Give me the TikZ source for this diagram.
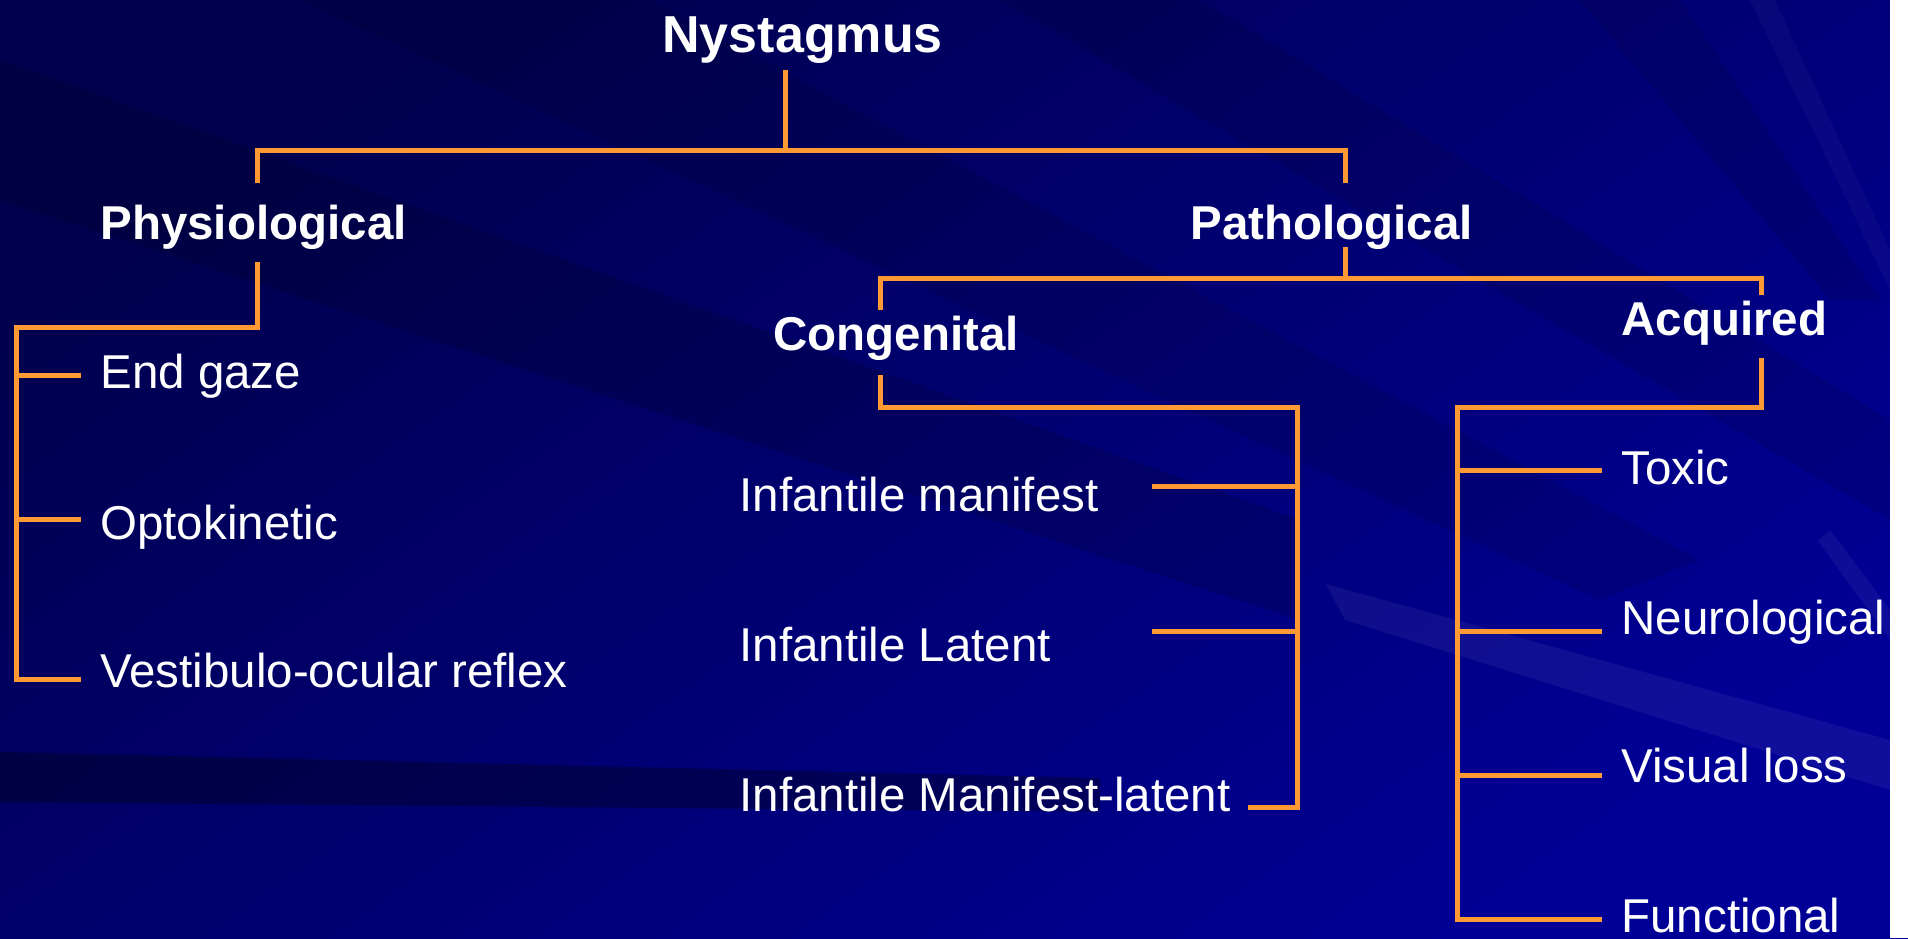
\documentclass[tikz,border=0pt]{standalone}
\usepackage{fontspec}
\setmainfont{Liberation Sans}
\definecolor{bgUL}{RGB}{0,0,78}
\definecolor{bgMid}{RGB}{0,0,125}
\definecolor{bgLR}{RGB}{0,0,150}
\definecolor{lineor}{RGB}{255,153,51}
\begin{document}
\begin{tikzpicture}[x=0.5pt,y=-0.5pt,
  conn/.style={draw=lineor, line width=2.5pt},
  lab/.style={text=white, inner sep=0pt, anchor=base west, font=\fontsize{23.75}{28}\selectfont},
  blab/.style={lab, font=\fontsize{23.75}{28}\selectfont\bfseries},
  tlab/.style={lab, font=\fontsize{26}{30}\selectfont\bfseries}]
\useasboundingbox (0,0) rectangle (1908,938);
% background
\shade[shading=axis, top color=bgUL, middle color=bgMid, bottom color=bgLR, shading angle=35] (0,0) rectangle (1908,938);
\fill[black, opacity=0.14] (0,60) -- (0,200) -- (1300,620) -- (1300,520) -- cycle;
\fill[black, opacity=0.10] (300,0) -- (650,0) -- (1700,560) -- (1600,600) -- cycle;
\fill[black, opacity=0.30] (0,752) -- (0,802) -- (1100,812) -- (1100,778) -- cycle;
\fill[black, opacity=0.10] (1580,0) -- (1680,0) -- (1880,300) -- (1830,300) -- cycle;
\fill[black, opacity=0.10] (1000,0) -- (1200,0) -- (1890,420) -- (1890,520) -- cycle;
\fill[white, opacity=0.06] (1326,584) -- (1345,620) -- (1890,790) -- (1890,740) -- cycle;
\fill[white, opacity=0.05] (1818,541) -- (1830,530) -- (1890,610) -- (1890,640) -- cycle;
\fill[white, opacity=0.03] (1750,0) -- (1775,0) -- (1890,250) -- (1890,290) -- cycle;
\fill[white] (1890,0) rectangle (1908,938);
% texts
\node[tlab] (nys) at (662,52) {Nystagmus};
\node[blab] (phys) at (100,239) {Physiological};
\node[blab] (path) at (1190,239) {Pathological};
\node[blab] (cong) at (773,350) {Congenital};
\node[blab] (acq) at (1621,335) {Acquired};
\node[lab] (end) at (100,388) {End gaze};
\node[lab] (opto) at (100,539) {Optokinetic};
\node[lab] (vest) at (100,687) {Vestibulo-ocular reflex};
\node[lab] (im) at (739,511) {Infantile manifest};
\node[lab] (il) at (739,661) {Infantile Latent};
\node[lab] (iml) at (739,811) {Infantile Manifest-latent};
\node[lab] (tox) at (1621,484) {Toxic};
\node[lab] (neu) at (1621,634) {Neurological};
\node[lab] (vis) at (1621,782) {Visual loss};
\node[lab] (fun) at (1621,932) {Functional};
% coordinates
\coordinate (n0) at (785,70);
\coordinate (n1) at (785,150.7);
\coordinate (p0) at (257,183);
\coordinate (p1) at (257,150.7);
\coordinate (q1) at (1345,150.7);
\coordinate (q0) at (1345,183);
\coordinate (ph0) at (257,262);
\coordinate (ph1) at (257,327);
\coordinate (ph2) at (16,327);
\coordinate (ph3) at (16,679);
\coordinate (tEnd) at (81,375);
\coordinate (tOpt) at (81,519);
\coordinate (tVes) at (81,679);
\coordinate (pa0) at (1345,247);
\coordinate (pa1) at (1345,278);
\coordinate (c0) at (880,310);
\coordinate (c1) at (880,278);
\coordinate (a1) at (1761,278);
\coordinate (a0) at (1761,295);
\coordinate (cg0) at (880,375);
\coordinate (cg1) at (880,407);
\coordinate (cg2) at (1297,407);
\coordinate (cg3) at (1297,807);
\coordinate (tIm) at (1152,486);
\coordinate (tIl) at (1152,631);
\coordinate (tIml) at (1248,807);
\coordinate (aq0) at (1761,358);
\coordinate (aq1) at (1761,407);
\coordinate (aq2) at (1457,407);
\coordinate (aq3) at (1457,919);
\coordinate (tTox) at (1602,470);
\coordinate (tNeu) at (1602,631);
\coordinate (tVis) at (1602,775);
\coordinate (tFun) at (1602,919);
% connectors
\draw[conn] (n0) -- (n1);
\draw[conn] (p0) -- (p1) -- (q1) -- (q0);
\draw[conn] (ph0) -- (ph1) -- (ph2) -- (ph3) -- (tVes);
\draw[conn] (ph2 |- tEnd) -- (tEnd);
\draw[conn] (ph2 |- tOpt) -- (tOpt);
\draw[conn] (pa0) -- (pa1);
\draw[conn] (c0) -- (c1) -- (a1) -- (a0);
\draw[conn] (cg0) -- (cg1) -- (cg2) -- (cg3) -- (tIml);
\draw[conn] (tIm) -- (cg2 |- tIm);
\draw[conn] (tIl) -- (cg2 |- tIl);
\draw[conn] (aq0) -- (aq1) -- (aq2) -- (aq3) -- (tFun);
\draw[conn] (aq2 |- tTox) -- (tTox);
\draw[conn] (aq2 |- tNeu) -- (tNeu);
\draw[conn] (aq2 |- tVis) -- (tVis);
\end{tikzpicture}
\end{document}
